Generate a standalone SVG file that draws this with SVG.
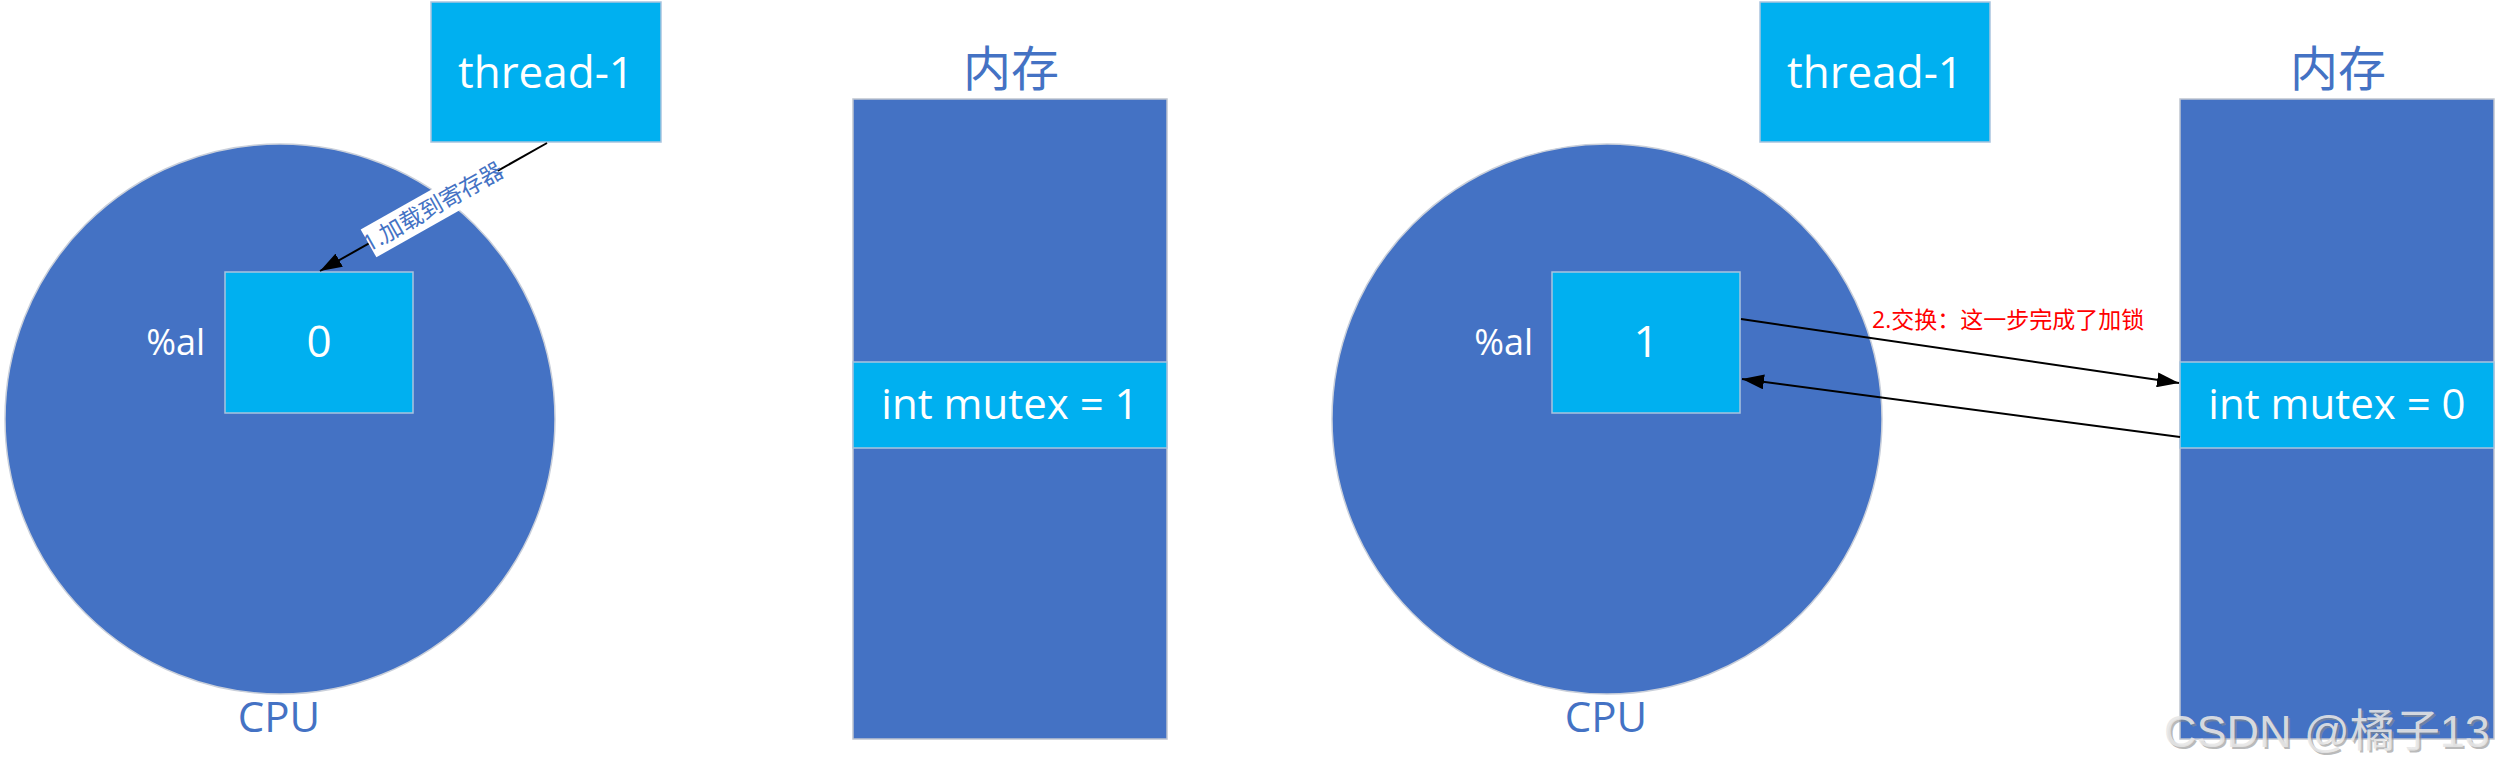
<svg xmlns="http://www.w3.org/2000/svg" width="2499" height="773" viewBox="0 0 2499 773">
  <defs>
    <style>
      .cpu { fill: #4472C4; stroke: #C9CFDA; stroke-width: 1.5; }
      .mem { fill: #4472C4; stroke: #BFC5D0; stroke-width: 1.5; }
      .cyan { fill: #00B0F0; stroke: #A9C4DE; stroke-width: 1.5; }
      .wt { fill: #FFFFFF; font-family: "Open Sans", "Noto Sans", sans-serif; }
      .big { font-size: 44px; text-anchor: middle; }
      .reg { font-size: 36px; text-anchor: end; }
      .blue { fill: #4472C4; font-family: "Open Sans", "Noto Sans CJK SC", sans-serif; text-anchor: middle; }
      .conn { stroke: #000000; stroke-width: 2; fill: none; }
      .lbl { font-family: "Open Sans", "Noto Sans CJK SC", sans-serif; font-size: 23px; }
    </style>
    <marker id="arr" viewBox="0 0 10 10" refX="10" refY="5" markerWidth="11" markerHeight="8" markerUnits="userSpaceOnUse" orient="auto" preserveAspectRatio="none">
      <path d="M0,0 L10,5 L0,10 z" fill="#000000"/>
    </marker>
    <marker id="arrB" viewBox="0 0 10 10" refX="10" refY="5" markerWidth="22" markerHeight="15" markerUnits="userSpaceOnUse" orient="auto" preserveAspectRatio="none">
      <path d="M0,0 L10,5 L0,10 z" fill="#000000"/>
    </marker>
  </defs>
  <rect width="2499" height="773" fill="#FFFFFF"/>

  <!-- Left scene -->
  <g id="cpu-left">
    <ellipse class="cpu" cx="280" cy="419" rx="275" ry="275"/>
    <text class="blue" x="279" y="732" font-size="42">CPU</text>
  </g>
  <g id="thread-left">
    <rect class="cyan" x="431" y="2" width="230" height="140"/>
    <text class="wt big" x="546" y="88">thread-1</text>
  </g>
  <g id="reg-left">
    <rect class="cyan" x="225" y="272" width="188" height="141"/>
    <text class="wt big" x="319" y="357">0</text>
    <text class="wt reg" x="205" y="355">%al</text>
  </g>
  <g id="mem-left">
    <text class="blue" x="1011" y="86" font-size="48">内存</text>
    <rect class="mem" x="853" y="99" width="314" height="640"/>
    <rect class="cyan" x="853" y="362" width="314" height="86"/>
    <text class="wt" x="1010" y="419" font-size="42" text-anchor="middle">int mutex = 1</text>
  </g>

  <!-- Right scene -->
  <g id="cpu-right">
    <ellipse class="cpu" cx="1607" cy="419" rx="275" ry="275"/>
    <text class="blue" x="1606" y="732" font-size="42">CPU</text>
  </g>
  <g id="thread-right">
    <rect class="cyan" x="1760" y="2" width="230" height="140"/>
    <text class="wt big" x="1875" y="88">thread-1</text>
  </g>
  <g id="reg-right">
    <rect class="cyan" x="1552" y="272" width="188" height="141"/>
    <text class="wt big" x="1646" y="357">1</text>
    <text class="wt reg" x="1533" y="355">%al</text>
  </g>
  <g id="mem-right">
    <text class="blue" x="2338" y="86" font-size="48">内存</text>
    <rect class="mem" x="2180" y="99" width="314" height="640"/>
    <rect class="cyan" x="2180" y="362" width="314" height="86"/>
    <text class="wt" x="2337" y="419" font-size="42" text-anchor="middle">int mutex = 0</text>
  </g>

  <!-- Connectors -->
  <g id="connectors">
    <line class="conn" x1="547" y1="143" x2="320" y2="271" marker-end="url(#arrB)"/>
    <g transform="translate(433,207) rotate(-29.4)">
      <rect x="-74" y="-16" width="148" height="32" fill="#FFFFFF"/>
      <text class="lbl" x="0" y="8" text-anchor="middle" fill="#4472C4">1.加载到寄存器</text>
    </g>
    <line class="conn" x1="1741" y1="319" x2="2179" y2="383" marker-end="url(#arrB)"/>
    <line class="conn" x1="2180" y1="437" x2="1742" y2="379" marker-end="url(#arrB)"/>
    <text class="lbl" x="1872" y="328" fill="#FF0000">2.交换：这一步完成了加锁</text>
  </g>

  <!-- Watermark -->
  <g id="watermark" font-family="'Liberation Sans', 'Noto Sans CJK SC', sans-serif" font-size="45">
    <text x="2166" y="749" fill="#8C8C8C" fill-opacity="0.6">CSDN @橘子13</text>
    <text x="2164" y="747" fill="#E6E6E6" fill-opacity="0.9">CSDN @橘子13</text>
  </g>
</svg>
